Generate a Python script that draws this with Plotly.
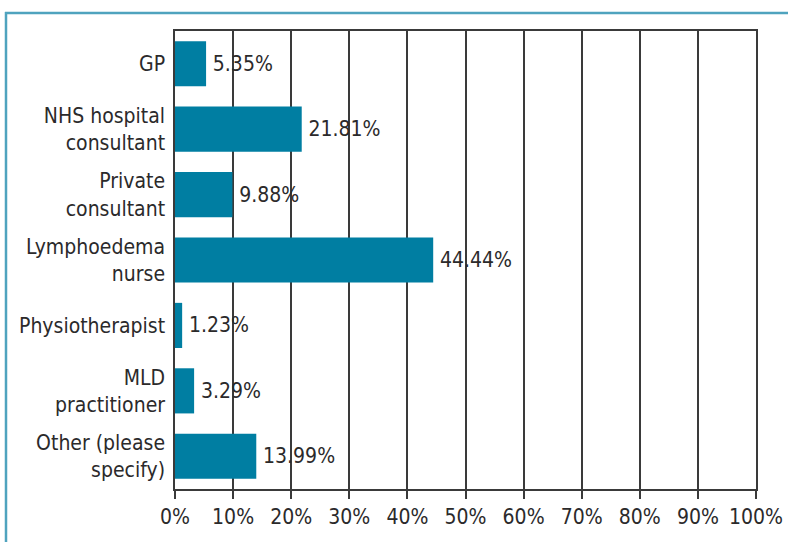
import plotly.graph_objects as go

categories = ["GP", "NHS hospital<br>consultant", "Private<br>consultant", "Lymphoedema<br>nurse",
              "Physiotherapist", "MLD<br>practitioner", "Other (please<br>specify)"]
values = [5.35, 21.81, 9.88, 44.44, 1.23, 3.29, 13.99]
value_labels = ["5.35%", "21.81%", "9.88%", "44.44%", "1.23%", "3.29%", "13.99%"]
x_ticks = [0, 10, 20, 30, 40, 50, 60, 70, 80, 90, 100]
x_tick_labels = ["0%", "10%", "20%", "30%", "40%", "50%", "60%", "70%", "80%", "90%", "100%"]

FONT = "DejaVu Sans Condensed"
TXT = "#2b2a2b"

fig = go.Figure(go.Bar(
    x=values, y=categories, orientation="h",
    marker=dict(color="#007ea2", line=dict(width=0)),
    text=value_labels, textposition="outside",
    texttemplate="\u2009%{text}",
    textfont=dict(family=FONT, size=21, color=TXT),
    cliponaxis=False,
))

W, H = 788, 542
L, R, T, B = 175, 32, 31, 53
pw, ph = W - L - R, H - T - B
def px(x): return (x - L) / pw
def py(y): return (H - B - y) / ph

frame = "#4fa3be"
fig.add_shape(type="line", xref="paper", yref="paper", x0=px(5), x1=px(800), y0=py(13), y1=py(13),
              line=dict(color=frame, width=2.5))
fig.add_shape(type="line", xref="paper", yref="paper", x0=px(6), x1=px(6), y0=py(12), y1=py(560),
              line=dict(color=frame, width=2.5))

fig.update_layout(
    width=W, height=H, autosize=False,
    margin=dict(l=L, r=R, t=T, b=B, autoexpand=False),
    paper_bgcolor="white", plot_bgcolor="white",
    bargap=0.31, showlegend=False,
    font=dict(family=FONT, size=21, color=TXT),
    xaxis=dict(range=[0, 100], tickvals=x_ticks, ticktext=x_tick_labels,
               showgrid=True, gridcolor="#3a3a3a", gridwidth=1.5,
               showline=True, linecolor="#3a3a3a", linewidth=1.5, mirror=True,
               ticks="outside", ticklen=8, tickcolor="#3a3a3a", tickwidth=1.5,
               tickfont=dict(family=FONT, size=21, color=TXT), zeroline=False,
               automargin=False),
    yaxis=dict(autorange="reversed", showgrid=False,
               showline=True, linecolor="#3a3a3a", linewidth=1.5, mirror=True,
               ticks="", ticklabelstandoff=4, automargin=False,
               tickfont=dict(family=FONT, size=21, color=TXT)),
)

fig.write_html("out.html", config={"displayModeBar": False, "responsive": False},
               post_script="document.body.style.margin='0';document.body.style.overflow='hidden';")
